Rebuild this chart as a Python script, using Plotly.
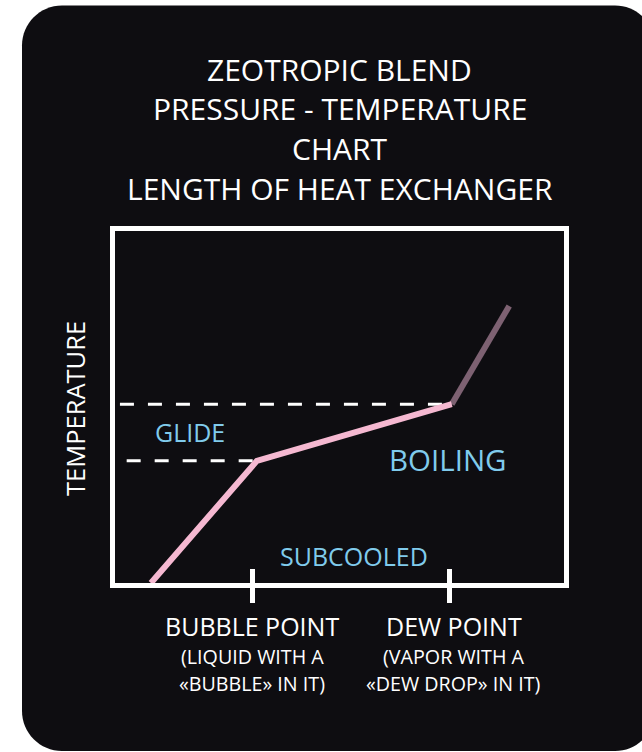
import plotly.graph_objects as go

# ---------------- data ----------------
curve_x = [8.0, 31.6, 75.0]          # start, bubble point, dew point (length of heat exchanger, %)
curve_y = [0.0, 34.7, 50.8]          # temperature (relative)
superheat_x = [75.0, 87.8]           # dew point -> superheated vapour
superheat_y = [50.8, 78.7]
glide_start_x = [1.1, 2.6]           # where the dashed glide guides begin (dew, bubble)
tick_positions = [30.6, 74.5]
tick_labels = ["BUBBLE POINT", "DEW POINT"]
tick_sublabels = [["(LIQUID WITH A", "«BUBBLE» IN IT)"],
                  ["(VAPOR WITH A", "«DEW DROP» IN IT)"]]
region_labels = ["GLIDE", "BOILING", "SUBCOOLED"]
region_x = [16.7, 74.2, 53.3]
region_y = [42.9, 35.2, 7.7]
title_lines = ["ZEOTROPIC BLEND", "PRESSURE - TEMPERATURE", "CHART", "LENGTH OF HEAT EXCHANGER"]
y_label = "TEMPERATURE"

# ---------------- layout geometry ----------------
W, H = 642, 752
L, R, T, B = 115, 78, 231, 169
PW, PH = W - L - R, H - T - B
BG = "#0e0d11"
PINK = "#f5b8d1"
BLUE = "#80cbec"
FONT = "Open Sans"


def px(x):
    return (x - L) / PW


def py(y):
    return (H - B - y) / PH


fig = go.Figure()

# dashed glide guides (dew level, bubble level)
fig.add_trace(go.Scatter(x=[glide_start_x[0], curve_x[2]], y=[curve_y[2], curve_y[2]],
                         mode="lines", line=dict(color="white", width=3, dash="14px,14px"),
                         hoverinfo="skip", showlegend=False))
fig.add_trace(go.Scatter(x=[glide_start_x[1], curve_x[1]], y=[curve_y[1], curve_y[1]],
                         mode="lines", line=dict(color="white", width=3, dash="14px,14px"),
                         hoverinfo="skip", showlegend=False))
# superheat part (faded)
fig.add_trace(go.Scatter(x=superheat_x, y=superheat_y, mode="lines",
                         line=dict(color="#7d6172", width=6), hoverinfo="skip", showlegend=False))
# main curve
fig.add_trace(go.Scatter(x=curve_x, y=curve_y, mode="lines",
                         line=dict(color=PINK, width=6), hoverinfo="skip", showlegend=False))
# helper trace for inside ticks axis
fig.add_trace(go.Scatter(x=tick_positions, y=[None, None], xaxis="x2", mode="lines",
                         hoverinfo="skip", showlegend=False))

# rounded dark panel
x0, x1, y0, y1, r = 22, 655, 5.5, 751, 40
k = 0.5523 * r
path = (f"M {px(x0 + r)},{py(y0)} L {px(x1 - r)},{py(y0)} "
        f"C {px(x1 - r + k)},{py(y0)} {px(x1)},{py(y0 + r - k)} {px(x1)},{py(y0 + r)} "
        f"L {px(x1)},{py(y1 - r)} "
        f"C {px(x1)},{py(y1 - r + k)} {px(x1 - r + k)},{py(y1)} {px(x1 - r)},{py(y1)} "
        f"L {px(x0 + r)},{py(y1)} "
        f"C {px(x0 + r - k)},{py(y1)} {px(x0)},{py(y1 - r + k)} {px(x0)},{py(y1 - r)} "
        f"L {px(x0)},{py(y0 + r)} "
        f"C {px(x0)},{py(y0 + r - k)} {px(x0 + r - k)},{py(y0)} {px(x0 + r)},{py(y0)} Z")
fig.add_shape(type="path", path=path, xref="paper", yref="paper",
              fillcolor=BG, line=dict(width=0), layer="below")

annotations = []
# title
title_y = [69, 108, 148.5, 189]
for txt, yy in zip(title_lines, title_y):
    annotations.append(dict(text=txt, x=0.5, y=py(yy), xref="paper", yref="paper",
                            xanchor="center", yanchor="middle", showarrow=False,
                            font=dict(family=FONT, size=30, color="white")))
# y label
annotations.append(dict(text=y_label, x=px(75), y=py(409), xref="paper", yref="paper",
                        textangle=-90, xanchor="center", yanchor="middle", showarrow=False,
                        font=dict(family=FONT, size=25.5, color="white")))
# region labels
region_sizes = [25, 29.5, 25]
for txt, xx, yy, s in zip(region_labels, region_x, region_y, region_sizes):
    annotations.append(dict(text=txt, x=xx, y=yy, xref="x", yref="y",
                            xanchor="center", yanchor="middle", showarrow=False,
                            font=dict(family=FONT, size=s, color=BLUE)))
# tick labels
xshift = [0, 4]
for tx, lab, subs, xs in zip(tick_positions, tick_labels, tick_sublabels, xshift):
    annotations.append(dict(text=lab, x=tx, y=py(625.5), xref="x", yref="paper", xshift=xs,
                            xanchor="center", yanchor="middle", showarrow=False,
                            font=dict(family=FONT, size=25, color="white")))
    for s, yy in zip(subs, [656, 683]):
        annotations.append(dict(text=s, x=tx, y=py(yy), xref="x", yref="paper", xshift=xs,
                                xanchor="center", yanchor="middle", showarrow=False,
                                font=dict(family=FONT, size=19.7, color="white")))

fig.update_layout(
    width=W, height=H,
    margin=dict(l=L, r=R, t=T, b=B, pad=0),
    paper_bgcolor="white", plot_bgcolor="rgba(0,0,0,0)",
    showlegend=False,
    annotations=annotations,
    xaxis=dict(range=[0, 100], showgrid=False, zeroline=False, showline=True, mirror=True,
               linecolor="white", linewidth=5, ticks="outside", tickvals=tick_positions,
               ticklen=15, tickwidth=5, tickcolor="white", showticklabels=False, fixedrange=True),
    xaxis2=dict(range=[0, 100], overlaying="x", matches="x", side="bottom", showgrid=False,
                zeroline=False, showline=False, ticks="inside", tickvals=tick_positions,
                ticklen=14, tickwidth=5, tickcolor="white", showticklabels=False),
    yaxis=dict(range=[0, 100], showgrid=False, zeroline=False, showline=True, mirror=True,
               linecolor="white", linewidth=5, ticks="", showticklabels=False, fixedrange=True),
)

fig.write_html("out.html", config={"displayModeBar": False},
               post_script="document.body.style.margin='0';document.body.style.overflow='hidden';")
